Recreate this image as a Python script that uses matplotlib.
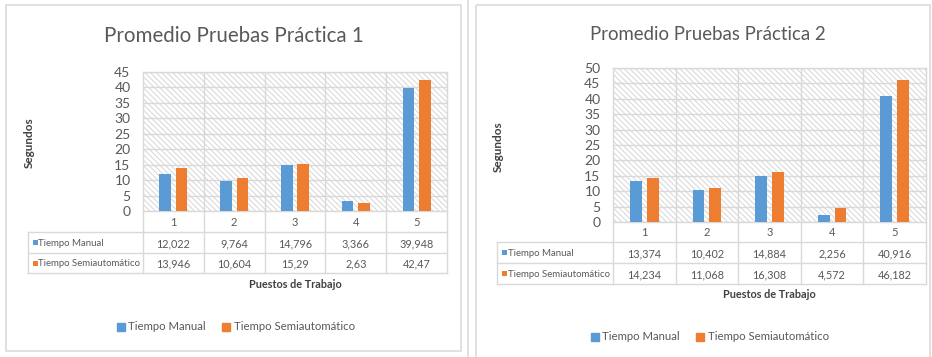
import matplotlib
matplotlib.use("Agg")
import matplotlib.pyplot as plt
from matplotlib.patches import Rectangle
from matplotlib.lines import Line2D
from matplotlib import font_manager

# ---------------- data ----------------
categories = ["1", "2", "3", "4", "5"]
series_names = ["Tiempo Manual", "Tiempo Semiautomático"]
titles = ["Promedio Pruebas Práctica 1", "Promedio Pruebas Práctica 2"]
p1_manual = [12.022, 9.764, 14.796, 3.366, 39.948]
p1_semi = [13.946, 10.604, 15.29, 2.63, 42.47]
p2_manual = [13.374, 10.402, 14.884, 2.256, 40.916]
p2_semi = [14.234, 11.068, 16.308, 4.572, 46.182]
y_max = [45, 50]
y_label = "Segundos"
x_label = "Puestos de Trabajo"

# ---------------- style ----------------
avail = {f.name for f in font_manager.fontManager.ttflist}
fam = [f for f in ["Liberation Sans Narrow", "Lato", "DejaVu Sans"] if f in avail]
plt.rcParams["font.family"] = fam
plt.rcParams["hatch.linewidth"] = 0.7

BLUE = "#5B9BD5"
ORANGE = "#ED7D31"
GRID = "#D9D9D9"
TXT = "#595959"

W, H = 932, 357
fig = plt.figure(figsize=(W / 100, H / 100), dpi=100)
ov = fig.add_axes([0, 0, 1, 1])
ov.set_xlim(0, W)
ov.set_ylim(H, 0)
ov.axis("off")
ov.patch.set_visible(False)


def fx(x):
    return x / W


def fy(y):
    return 1 - y / H


panels = [
    dict(data=(p1_manual, p1_semi), title=titles[0], ymax=y_max[0],
         px=(143, 447), py=(72, 211), lab_x0=28, rows=(211, 232, 253, 273),
         title_xy=(234, 36), title_fs=14.8, ylab_xy=(29, 143),
         xlab_xy=(295, 285), leg_xy=(236, 327), frame=(6, 5, 461, 351)),
    dict(data=(p2_manual, p2_semi), title=titles[1], ymax=y_max[1],
         px=(613, 926), py=(68, 222), lab_x0=497, rows=(222, 242, 263, 284),
         title_xy=(708, 34), title_fs=13.4, ylab_xy=(498, 147),
         xlab_xy=(769, 295), leg_xy=(710, 337), frame=(476, 5, 930, 362)),
]

# outer frames
for p in panels:
    x0, y0, x1, y1 = p["frame"]
    ov.add_patch(Rectangle((x0, y0), x1 - x0, y1 - y0, fill=False,
                           edgecolor="#DCDCDC", lw=1.2, clip_on=False))
ov.plot([468, 468], [0, H], color="#DCDCDC", lw=1.2)

n = len(categories)
width = 0.19
off = 0.135

for p in panels:
    (px0, px1), (py0, py1) = p["px"], p["py"]
    ax = fig.add_axes([fx(px0), fy(py1), fx(px1 - px0), (py1 - py0) / H])
    ax.set_xlim(-0.5, n - 0.5)
    ax.set_ylim(0, p["ymax"])
    ax.set_facecolor("white")
    ax.add_patch(Rectangle((0, 0), 1, 1, transform=ax.transAxes,
                           facecolor="white", edgecolor="#D6D6D6",
                           hatch="\\" * 6, lw=0, zorder=0))
    xs = list(range(n))
    man, semi = p["data"]
    ax.bar([x - off for x in xs], man, width=width, color=BLUE, zorder=3)
    ax.bar([x + off for x in xs], semi, width=width, color=ORANGE, zorder=3)
    ax.set_yticks(range(0, p["ymax"] + 1, 5))
    ax.set_xticks([])
    ax.yaxis.grid(True, color=GRID, lw=1.0, zorder=1)
    ax.set_axisbelow(True)
    for b in range(1, n):
        ax.axvline(b - 0.5, color=GRID, lw=1.0, zorder=1)
    for s in ax.spines.values():
        s.set_color(GRID)
        s.set_linewidth(1.0)
    ax.tick_params(axis="y", length=0, pad=9, labelsize=10, labelcolor=TXT)

    # table
    r0, r1, r2, r3 = p["rows"]
    colw = (px1 - px0) / n
    lx0 = p["lab_x0"]
    for yy in (r1, r2, r3):
        ov.plot([lx0, px1], [yy, yy], color=GRID, lw=1.0)
    ov.plot([lx0, lx0], [r1, r3], color=GRID, lw=1.0)
    for i in range(n + 1):
        xx = px0 + i * colw
        ov.plot([xx, xx], [r0, r3], color=GRID, lw=1.0)
    for i, c in enumerate(categories):
        cx = px0 + (i + 0.5) * colw
        ov.text(cx, (r0 + r1) / 2 + 1, c, ha="center", va="center",
                fontsize=8, color=TXT)
        ov.text(cx, (r1 + r2) / 2 + 1, str(man[i]).replace(".", ","),
                ha="center", va="center", fontsize=7.8, color=TXT)
        ov.text(cx, (r2 + r3) / 2 + 1, str(semi[i]).replace(".", ","),
                ha="center", va="center", fontsize=7.8, color=TXT)
    for (ya, yb), col, name in (((r1, r2), BLUE, series_names[0]),
                                ((r2, r3), ORANGE, series_names[1])):
        ym = (ya + yb) / 2
        ov.add_patch(Rectangle((lx0 + 5, ym - 2.5), 4.5, 5, color=col, lw=0))
        ov.text(lx0 + 10.5, ym + 1, name, ha="left", va="center",
                fontsize=6.9, color=TXT)

    # titles
    tx, ty = p["title_xy"]
    ov.text(tx, ty, p["title"], ha="center", va="center",
            fontsize=p["title_fs"], color=TXT)
    lx, ly = p["ylab_xy"]
    ov.text(lx, ly, y_label, ha="center", va="center", rotation=90,
            fontsize=8.5, fontweight="bold", color="#404040")
    xx_, xy_ = p["xlab_xy"]
    ov.text(xx_, xy_, x_label, ha="center", va="center", fontsize=7.8,
            fontweight="bold", color="#404040")

    # legend
    gx, gy = p["leg_xy"]
    handles = [Line2D([], [], marker="s", ls="", color=BLUE, markersize=5.5),
               Line2D([], [], marker="s", ls="", color=ORANGE, markersize=5.5)]
    fig.legend(handles, series_names, loc="center",
               bbox_to_anchor=(fx(gx), fy(gy)), ncol=2, frameon=False,
               fontsize=8.2, handlelength=0.6, handletextpad=0.35,
               columnspacing=1.5, labelcolor=TXT)

fig.savefig("out.png", dpi=100)
